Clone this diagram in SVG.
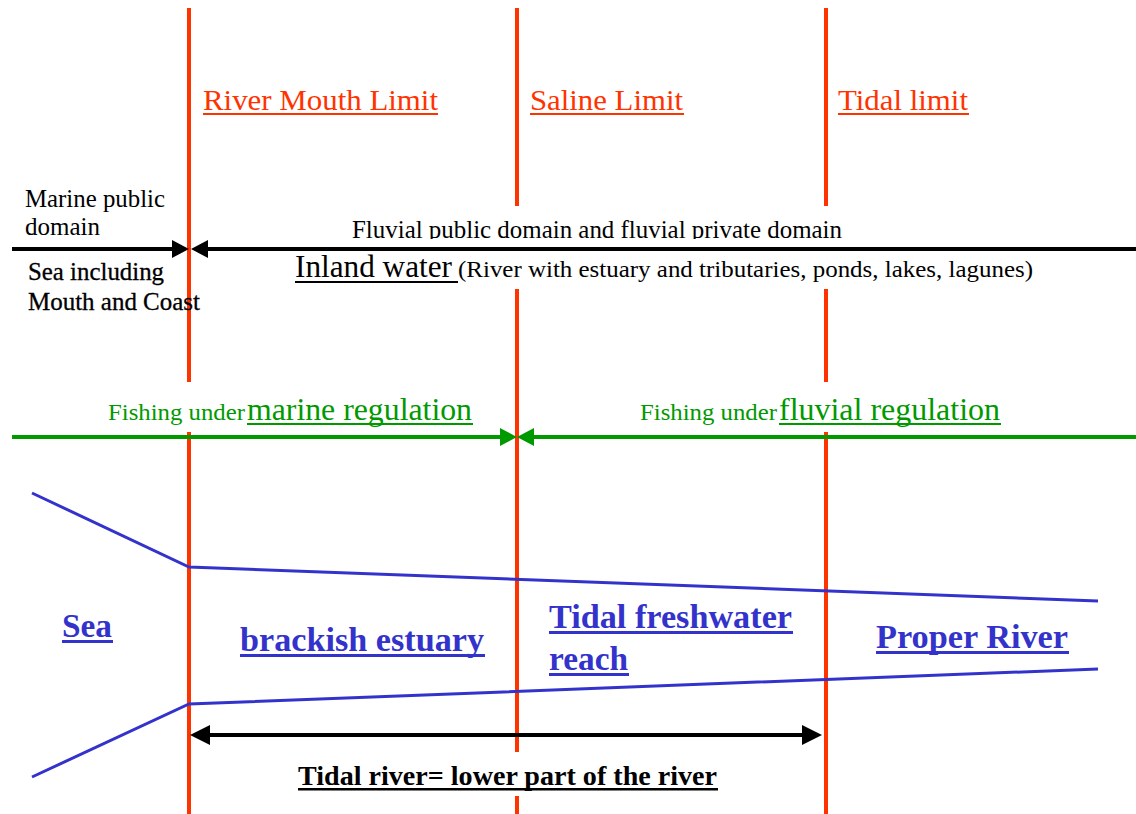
<svg xmlns="http://www.w3.org/2000/svg" width="1136" height="814" viewBox="0 0 1136 814">
<style>
.lim{stroke:#FF3300;stroke-width:4;fill:none}
.rl{font-size:30px;fill:#FF3300}
.ser{fill:#000}
.grn{fill:#009900}
.blu{font-weight:bold;font-size:34px;fill:#3333CC}
.bk{stroke:#000;stroke-width:4;fill:none}
.gl{stroke:#009900;stroke-width:4;fill:none}
.bl{stroke:#3333CC;stroke-width:3;fill:none}
</style>
<defs>
<clipPath id="clipFluv"><rect x="0" y="200" width="1136" height="39"/></clipPath>
</defs>
<rect width="1136" height="814" fill="#fff"/>

<g id="limit-lines">
<path class="lim" d="M189,8V382M189,432V814"/>
<path class="lim" d="M517,8V206M517,289V752M517,796V814"/>
<path class="lim" d="M826,8V206M826,289V382M826,432V814"/>
</g>

<g font-family="'Liberation Serif', 'Times New Roman', 'DejaVu Serif', serif">
<g id="limit-labels">
<text class="rl" x="203" y="110" textLength="235" lengthAdjust="spacingAndGlyphs">River Mouth Limit</text>
<rect x="203" y="113" width="235" height="2" fill="#FF3300"/>
<text class="rl" x="530" y="110" textLength="153" lengthAdjust="spacingAndGlyphs">Saline Limit</text>
<rect x="530" y="113" width="154" height="2" fill="#FF3300"/>
<text class="rl" x="838" y="110" textLength="130" lengthAdjust="spacingAndGlyphs">Tidal limit</text>
<rect x="838" y="113" width="131" height="2" fill="#FF3300"/>
</g>

<g id="domain-labels">
<text class="ser" x="25" y="207" font-size="25" textLength="140" lengthAdjust="spacingAndGlyphs">Marine public</text>
<text class="ser" x="25" y="235" font-size="25">domain</text>
<text class="ser" x="28" y="280" font-size="25" stroke="#000" stroke-width="0.3" textLength="136" lengthAdjust="spacingAndGlyphs">Sea including</text>
<text class="ser" x="28" y="310" font-size="25" stroke="#000" stroke-width="0.3" textLength="172" lengthAdjust="spacingAndGlyphs">Mouth and Coast</text>
<text class="ser" x="352" y="238" font-size="25" clip-path="url(#clipFluv)" textLength="490" lengthAdjust="spacingAndGlyphs">Fluvial public domain and fluvial private domain</text>
<text class="ser" x="295" y="277" font-size="31" textLength="157" lengthAdjust="spacingAndGlyphs">Inland water</text>
<rect x="295" y="281" width="163" height="2" fill="#000"/>
<text class="ser" x="458" y="277" font-size="24" textLength="575" lengthAdjust="spacingAndGlyphs">(River with estuary and tributaries, ponds, lakes, lagunes)</text>
</g>

<g id="fishing-labels">
<text class="grn" x="108" y="420" font-size="24" textLength="137" lengthAdjust="spacingAndGlyphs">Fishing under</text>
<text class="grn" x="247" y="420" font-size="32" textLength="225" lengthAdjust="spacingAndGlyphs">marine regulation</text>
<rect x="247" y="423" width="226" height="2" fill="#009900"/>
<text class="grn" x="640" y="420" font-size="24" textLength="137" lengthAdjust="spacingAndGlyphs">Fishing under</text>
<text class="grn" x="779" y="420" font-size="32" textLength="221" lengthAdjust="spacingAndGlyphs">fluvial regulation</text>
<rect x="779" y="423" width="222" height="2" fill="#009900"/>
</g>

<g id="zone-sea">
<text class="blu" x="62" y="637" textLength="50" lengthAdjust="spacingAndGlyphs">Sea</text>
<rect x="62" y="640" width="51" height="3" fill="#3333CC"/>
</g>
<g id="zone-brackish">
<text class="blu" x="240" y="651" textLength="244" lengthAdjust="spacingAndGlyphs">brackish estuary</text>
<rect x="240" y="654" width="245" height="3" fill="#3333CC"/>
</g>
<g id="zone-tidal-freshwater">
<text class="blu" x="549" y="628" textLength="243" lengthAdjust="spacingAndGlyphs">Tidal freshwater</text>
<rect x="549" y="631" width="244" height="3" fill="#3333CC"/>
<text class="blu" x="549" y="670" textLength="79" lengthAdjust="spacingAndGlyphs">reach</text>
<rect x="549" y="673" width="80" height="3" fill="#3333CC"/>
</g>
<g id="zone-proper-river">
<text class="blu" x="876" y="648" textLength="192" lengthAdjust="spacingAndGlyphs">Proper River</text>
<rect x="876" y="651" width="193" height="3" fill="#3333CC"/>
</g>

<g id="tidal-river-label">
<text class="ser" x="298" y="785" font-size="28" font-weight="bold" textLength="419" lengthAdjust="spacingAndGlyphs">Tidal river= lower part of the river</text>
<rect x="298" y="788" width="420" height="2.5" fill="#000"/>
</g>
</g>

<g id="river-shape">
<polyline class="bl" points="32,493 189,567 1098,601"/>
<polyline class="bl" points="32,777 189,704 1098,669"/>
</g>

<g id="connectors">
<line class="bk" x1="12" y1="249" x2="173" y2="249"/>
<polygon points="172,240 189,249 172,258" fill="#000"/>
<line class="bk" x1="207" y1="249" x2="1136" y2="249"/>
<polygon points="208,240 191,249 208,258" fill="#000"/>
<line class="gl" x1="12" y1="437" x2="501" y2="437"/>
<polygon points="500,428 517,437 500,446" fill="#009900"/>
<line class="gl" x1="533" y1="437" x2="1136" y2="437"/>
<polygon points="534,428 517,437 534,446" fill="#009900"/>
<line class="bk" x1="208" y1="735" x2="804" y2="735"/>
<polygon points="210,725 190,735 210,745" fill="#000"/>
<polygon points="802,725 822,735 802,745" fill="#000"/>
</g>
</svg>
